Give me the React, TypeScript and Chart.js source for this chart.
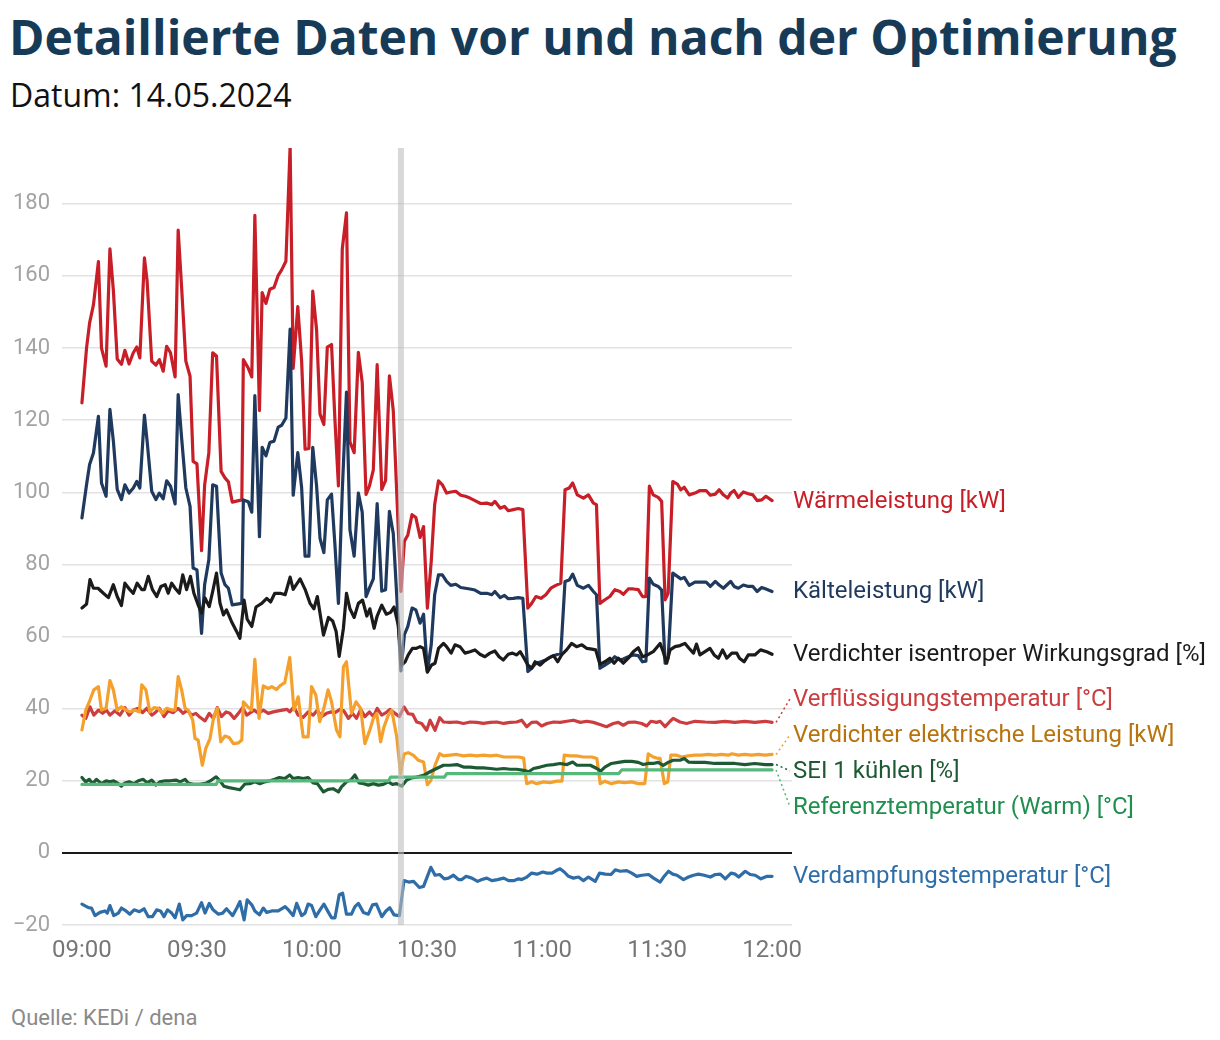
import { useEffect, useRef } from 'react';
import Chart from 'chart.js/auto';

// minutes after 09:00
const powerTimes = [0,1.2,2,3,4.3,5.1,6.3,7.3,8.2,9.2,10.3,11.2,12.3,13.4,14.3,15.1,16.3,17,18.2,19.3,20.2,21.2,22.1,23.1,24.3,25.1,26,27.1,28.2,29,30,31.2,32,33.1,34.1,35.1,36.3,37.3,38.2,39.2,41.7,42.1,43.4,44.3,45.1,46.3,47,48,49,50.1,51.2,52.1,53.2,54.3,55.1,56.3,57.3,58.2,59.2,60.2,61.2,62.1,63.1,64,65.1,66,66.9,67.9,69,69.9,71,72.1,73.1,74.1,75,76,77,78.2,79.2,80.2,81.2,83.2,84.1,85,86.1,87.1,88.2,89.1,90.1,91.1,92,93,94,95.1,96.2,97.5,98.8,100,101.2,102.5,104,105.6,106.9,107.7,109.1,110.2,111.2,112.5,113.8,115,116.3,117.3,118.4,119.7,121,122.3,123.6,124.9,126,127.1,128,129.2,130.8,132.1,133.4,134.2,135.1,136.4,137.7,139,140.3,141.2,142.5,143.8,145.1,146.2,147.1,148,149,150.3,151.2,152.1,152.9,154.1,155.3,156.2,157.1,158.4,159.9,161.2,162.8,163.9,165.2,166.2,167.3,168.4,169.2,170.1,171.2,172.5,173.8,175,176.1,177.3,178.4,180];
const waerme = [124.8,140,147,152,164,140,135,167.5,156,137,135.5,139.4,135.6,138.7,140.3,137.3,165,158.6,136.4,135.3,136.8,133.6,140.5,138.7,132,172.7,156.8,136.4,132.2,108.6,107.9,83.8,102,111,138.7,137.8,105.8,104,102.9,97.3,97.9,136.8,134.4,132,176.8,122.7,155.4,152.4,156.3,156.8,160.2,161.7,164.1,195.8,134.4,151.5,136.4,112,112.2,155.8,145.1,121.7,118.8,140.3,141,119.8,101.8,167.5,177.5,114,111,138.8,130.5,99.4,101.8,106.2,135.4,100.8,103.3,132.3,122.7,72.5,86.4,88.2,93.8,93,87.5,90.5,67.9,80.8,96.6,103.2,102.1,99.8,100.1,100.3,99.2,98.9,98.4,97.7,96.9,97,96.6,97.5,95.6,96.1,94.9,95.2,95.5,95.2,67.9,69.2,71.1,70.6,71.6,73.4,74.2,74.8,100.7,101.2,102.6,99.3,98.4,99.3,97,96.6,69.2,70.2,71.1,73,72.5,71.7,73.2,73.2,73,71.1,71.1,101.7,99.3,98.6,97.5,70.2,72,103,102.3,100.7,101.4,99.3,99.8,100.5,100.5,99.2,99.5,100.7,99.3,98.4,99.8,100.5,98.6,100.1,99.6,99.3,97.7,97.9,98.9,97.7];
const kaelte = [92.9,102.1,107.7,110.9,121.1,102.6,98.9,123,114.2,100.8,98,102.1,99.8,101.2,103,101.2,121.4,114.2,100.3,98,99.8,98.2,103.2,101.7,96.8,127.1,115.1,101.2,96.1,79,78.5,60.9,74.4,81.3,102.1,101.7,77.6,74.4,73.4,68.8,69.2,97.9,97.4,94.5,126.8,87.7,112.5,110.1,113.8,114.2,118.1,118.6,120.6,145.3,99.2,111,101.3,82.3,82.3,112.5,101.8,87.2,83.3,97.9,99.5,85.2,69.2,100.3,127.8,89.6,82.3,99.8,94.5,71.1,73.5,76,96.9,72.6,73,94.7,88.6,50.5,60.5,62.8,67.9,67.4,63.7,66.2,50.3,57.7,71.6,77.1,77.1,75.3,74.2,74.5,73.6,73.4,73.2,72.9,72,72,71.6,72.5,70.8,71.4,70.5,70.6,70.8,70.6,50.3,51.2,52.6,53,53.5,54.4,54.9,55.4,75.3,75.7,77.3,74.2,73.4,74.2,72.5,71.6,51.2,52.1,53,54.4,53.5,53.8,54.4,54.9,54.7,53,53.2,76.2,74.5,73.9,72.9,52.6,54,77.6,76.7,76,76.4,74.2,75.1,75.1,75.1,73.9,75.3,74.3,73.4,74.5,75.3,73.9,73.4,74.3,73.9,73.9,72.5,73.6,73.2,72.5];

const effTimes = [0,1.2,2.1,3,4.2,5.6,6.9,8.2,9.2,10.3,11.2,12.5,13.4,14.4,15.6,16.3,17.3,18.4,19.5,20.6,21.7,22.5,23.4,24.3,25.4,26.3,27.3,28.3,29.2,30.3,31.2,32.1,33.2,34.1,35.1,36,36.9,37.7,39,40.3,41.2,42.3,43.1,44.3,45.4,46.9,48.2,49.2,50.3,51.7,53,54.3,55.1,56.9,58.2,59.5,60.5,61.4,63,64.3,65.4,66.3,67.1,68.2,69,69.9,71,72.1,73.2,74.3,75.1,76.2,77,78.2,79.4,80.5,81.4,82.5,83.4,84.3,85.1,86.2,87.1,88.2,89.1,90.1,91.2,92.1,93,94.3,95.1,96.3,97.3,98.6,99.9,101.2,102.5,103.8,105.1,106.4,107.7,108.8,109.9,111.2,112.3,113.4,114.3,115.1,116.3,117.3,118.2,119.5,120.6,121.7,123,124.1,125.1,126.4,127.7,129,130.4,131.7,133,134,135.1,136.4,137.7,138.8,139.9,141.2,142.5,143.8,145.1,146.2,147.5,149,150.8,151.6,152.5,153.4,154.7,156,157.3,158.4,159.5,160.3,161.2,162.5,163.8,164.9,166,167.1,168.2,169.5,170.8,171.5,172.7,173.8,175.5,177,178.6,180];
const wirkungsgrad = [67.9,69,75.8,73.4,73.4,72,70.8,74.4,71.1,68.6,74.8,73,72,74.8,73,73,76.7,73,71.1,73.9,74.4,72,74.8,73.4,72,77.1,73,76.7,72,68.8,66.5,70.7,68.3,72.5,77.6,69.3,66,67.4,64.2,61.5,59.5,70.1,64.8,62.8,68.2,69.2,70.6,69.6,72,72,71.6,76.5,73.1,76,73.1,69.2,67.7,71.1,60.4,65.3,64.3,61.4,54.5,62.3,72,67.7,65.3,69.2,70.1,65.7,67.7,62.3,65.7,68.7,66.2,66.7,68.2,63.2,52.1,53,54.9,56.7,56.7,57.2,56.7,50.1,52.1,52.6,56.7,58.1,57.2,55.4,57.7,57.2,55.4,55.8,56.3,55.1,54.4,55.4,56,54.4,53.5,55.1,55.4,54.9,55.8,54.4,52.1,51.2,53,52.1,53.2,54,54.7,53,54.9,56.3,58.1,57.2,57.7,56.7,56.5,56.3,52.3,53,54,52.6,54,52.6,54,55.8,56.9,54.4,54.9,55.8,58.1,55.8,52.6,56.3,57.2,57.5,58.1,56.7,55.4,57.9,54.9,55.8,56.7,54.9,54,56.3,54,55.4,55.4,54,53,54.9,54.9,56.3,55.8,55.1];

const condTimes = [0,1,2.1,3.1,4.3,5.4,6.4,7.3,8.6,9.9,11.2,12.3,13.4,14.7,15.8,16.9,18.2,19.3,20.2,21.4,22.5,23.8,25.1,26.4,27.5,28.6,29.7,30.8,32.1,33.2,34.3,35.3,36.4,37.6,38.6,39.7,40.8,41.9,43,44.9,46,47.3,48.6,49.9,51.2,52.3,53.5,54.2,55.3,56.4,57.7,59,60.3,61.4,62.5,63.8,64.9,66,67.3,68.3,69.5,70.6,71.6,72.7,73.8,75,76,77,78.2,79.3,80.3,81.4,82.8,84,85.1,86.3,87.3,88.6,89.9,90.8,92.1,93.3,94.3,96,97.8,99.5,101.3,103,104.7,106.5,108.2,110,111.7,113.4,114.7,116,117.3,118.6,119.9,121.3,123,124.7,126.5,128.2,130,131.7,133.4,135.1,136.8,138.6,139.9,141.2,142.5,144.2,146,147.3,148.4,149.9,150.8,152.1,153.4,154.2,156,157.7,159.9,162.5,165.1,167.7,170.3,172.9,175.5,178.2,180];
const verfluessigung = [38.2,37.3,40.5,38.2,39.6,38.7,39.6,38.2,39.4,38.2,40.3,38.2,39.6,40.1,38.9,40.1,38.2,39.1,40.1,37.8,39.4,38.9,40.1,38.7,39.6,38.2,38.7,37.6,36.6,38.7,37.3,40.3,37.8,39.1,38.7,37.3,38.7,40.3,38.2,39.6,38.7,39.6,38.7,39.1,39.4,39.6,39.8,39.1,40.5,38.2,37.6,39.1,38.2,39.6,37.8,38.7,39.1,38.9,39.8,39.4,37.3,38.7,37.3,39.8,37.8,39.1,37.8,40.1,38.2,38.9,39.8,38.9,37.8,40.5,38.6,38.4,36.3,35.9,34,36.8,34,37.5,36.3,36.2,36.3,35.9,36.3,36.2,35.9,36.2,36.3,35.9,36.2,36.3,36.8,35,36.2,36.3,35.2,35.9,36.3,36.2,36.5,36.8,36.2,36.5,36.2,35.6,35,35.9,36.2,35.4,36.2,36.3,35.9,35.2,36.5,36.2,36.5,35,36.5,37.3,36.3,35.9,36.5,36.3,36.2,36.5,36.2,36.5,36.2,36.5,36.2];

const elTimes = [0,1,2.1,3.1,4.3,5.1,6.3,7.3,8.2,9.2,10.3,11.5,12.5,13.8,15,15.6,16.7,17.7,18.8,19.9,21,22.1,23.4,24.3,25.1,26,26.9,27.7,28.9,29.5,30.3,31.4,32.3,33.4,34.4,35.3,36.2,37.3,38.4,39.5,40.8,41.7,42.1,43.1,44.2,45.1,46.2,47.3,48.6,49.5,50.8,51.6,52.9,54.2,55.3,56.4,57.7,59,59.9,61,62,63.1,64.2,65.1,66.4,67.3,68.2,69,70.3,71.5,72.7,73.8,75.1,76,76.9,77.9,78.8,79.9,80.8,82.1,83.1,84,85.1,86.4,87.7,89.1,90.1,91,92.1,93.3,94.3,96,97.8,99.5,101.3,103,104.7,106.5,108.2,110,111.7,113.9,115.2,116,117.3,118.6,120.4,122.1,123.9,125.2,125.8,127.3,129,130.8,133,134.3,135.2,136.4,138.1,139.9,141.6,143.4,145.1,146.8,147.7,149,149.9,150.8,151.9,152.8,153.6,155.1,156.4,158.1,159.9,161.6,163.4,165.1,166.8,168.6,169.5,171.2,172.9,174.7,176.4,178.2,180];
const elLeistung = [34.1,39.6,42.4,45.2,46.1,39.6,40.1,47.8,45.2,39.6,40.5,39.6,39.1,39.6,39.1,46.6,45.2,39.1,40.3,40.1,38.7,40.1,39.6,39.6,48.9,45.2,40.1,39.6,36.8,31.7,31.3,24.3,29,31.7,37.8,40.1,30.8,32.4,32,30.3,30.5,31.3,41.9,40.7,39.6,53.7,37.3,46.3,45.6,46.1,45.3,46.3,47.2,54.2,39.6,43.3,32.2,32.2,46.1,43.8,36.4,40.1,45.2,41.9,34.1,32.2,51.6,53,38.7,41.9,40.1,30.3,34.1,37.3,38.7,30.8,35,38.2,39.6,32.2,22,27.4,27.8,27.1,25.7,25.2,18.9,20.1,24.3,27.5,26.9,27.1,27.3,26.9,27.1,26.9,27.1,26.9,27.1,26.6,26.6,26.6,26.3,19.2,19.7,19.2,19.7,19.5,19.9,19.9,27.1,26.9,26.9,26.6,26.6,26.2,19.2,19.9,19.2,19.7,19.5,19.7,19.2,19.2,27.5,26.6,26.3,26.2,19.2,19.7,27.1,27.1,26.6,26.9,27.1,27.1,27.3,27.1,27.3,27.1,27.5,27.1,27.3,27.1,27.3,27.1,27.3];

const seiTimes = [0,1,1.9,2.8,3.8,5.1,6.3,7.3,8.3,9.5,10.3,11.2,12.3,13.6,14.7,16,17,18.2,19.3,20.3,21.7,23,24.5,25.6,26.9,27.7,29,30.8,32.5,33.8,35,36,37,38.4,39.9,41.2,42.5,43.8,45.1,46.4,47.7,49,50.3,51.5,52.9,54.2,55.1,56.4,57.7,59,60.3,61.4,63,64.2,65.5,66.9,67.7,69,70.3,71.2,72.3,73.5,74.7,76,77.3,78.6,79.9,81,82.1,83.4,84.7,86,87.3,89.1,90.8,92.5,94.3,96,97.8,99.5,101.3,103,104.7,106.5,108.2,110,111.7,113.4,115.2,116.5,117.8,119.5,121.3,123,124.7,126.5,128,129.1,130.8,132.6,134.3,135.3,136.4,138.1,139.9,141.6,143.4,145.1,146.4,147.7,149,150.3,151.6,152.9,154.2,156,157.1,158.2,159.9,162.5,165.1,167.7,170.3,172.9,175.5,178.2,180];
const seiKuehlen = [20.9,19.7,20.4,19.2,20.4,19.2,20,19.7,20,19.2,18.5,19.4,19.7,19.2,20,20.4,19.4,20.2,18.8,19.7,20,20,20.2,19.7,20.4,19.4,19,19,19.4,20.2,21.1,20,18.5,18.1,17.8,17.5,19.1,19.2,19.7,19.2,19.7,20,20.4,20.9,20.6,21.6,20.6,20.9,20.6,20.9,19.4,19.2,16.9,17.6,17.8,16.9,18.3,19.7,20.4,21.6,19.4,19.2,18.8,19.2,18.8,19,19.7,19,19.2,18.5,20.2,20.8,21,21.5,22.5,23.4,24.3,24.3,24.5,23.8,23.8,23.6,23.6,23.4,23.2,23.4,23.2,23.2,22.9,22.5,23.4,23.8,24.3,24.5,24.8,24.5,25.2,24.3,24.3,24.3,23.4,22.7,23.8,24.8,25.1,25.4,25.4,25.1,24.5,24.8,24.8,25.1,24.3,25.1,25.7,25.7,26.2,25.2,25.1,25.1,24.8,24.8,24.8,24.5,24.8,24.5,24.5];

const refTimes = [0,35,35.5,80,80.5,94.5,95.2,140,140.8,180];
const referenz = [19,19,20,20,21,21,22,22,23,23];

const evapTimes = [0,1.7,2.5,3.4,4.7,6,6.6,7.3,8.3,9.5,10.3,11.5,12.5,13.6,15,16.2,17.3,18.4,19.5,20.5,21.4,22.3,23.4,24.3,25.4,26.3,27.3,28.6,29.9,31.2,32.1,33.2,34.2,35.6,36.7,37.7,39.3,40.4,41.2,42.3,43.1,44.3,45.1,46.3,47.3,48.2,49.5,51.2,53,54.1,55.1,56,57.3,58.2,59,59.9,61,62.1,63.1,64.3,65.1,66,67.1,68,69,70.3,71.2,72.1,73.4,74.7,75.8,76.8,78.2,79.3,80.3,81.4,82.8,84,85.2,86.5,88,89.1,90.1,91,92.1,93.3,94.5,95.6,96.9,98.2,99.1,100.2,101.7,103.2,104.3,105.6,106.9,108.4,110,111.3,112.6,113.9,114.7,115.9,117.3,118.7,120.2,121.3,122.6,123.7,124.7,125.8,126.9,128.2,129.5,130.8,132.1,133.9,135,136.5,138,139.1,140.4,142.1,143.4,144.7,146,147.8,149.1,150.8,151.7,153,154.1,155.2,156.9,158.2,159.5,160.8,162.3,163.9,165.2,166.5,167.8,169.3,170.4,171.3,173,174.3,175.6,177.1,178.7,180];
const verdampfung = [-14.2,-15.2,-15.3,-17.4,-16.5,-16.1,-16.7,-14.6,-17.4,-16.7,-15.3,-16.1,-17,-15.8,-16.3,-15.5,-17.7,-17.7,-15.8,-16.1,-17.7,-15.8,-16.7,-18,-14.2,-18.6,-17.4,-17.4,-16.7,-13.8,-16.7,-14,-15.8,-17,-16.7,-15.5,-17.4,-15.3,-13.5,-18.6,-13,-14.4,-16.1,-17.2,-15.3,-16.5,-16.1,-16.1,-14.9,-16.1,-17.4,-14,-17.4,-16.7,-14.2,-14.6,-17.7,-15.8,-14.2,-16.5,-18,-18,-11.6,-11.2,-17,-17,-14.9,-14,-16.5,-17,-14.4,-14.2,-17.7,-16.1,-15.2,-17.2,-17.4,-7.7,-8.1,-7.9,-9.6,-9.3,-6.5,-4,-6.2,-6,-7.2,-7,-6.2,-7.4,-7.4,-6.5,-7,-7.9,-7.4,-7,-7.7,-7.4,-7,-7.7,-7.7,-7.2,-7.4,-6.8,-5.6,-5.9,-5.3,-5.6,-5.6,-4.9,-4.4,-5.3,-6.5,-7,-6.7,-7.7,-6.7,-7.9,-5.6,-5.9,-6,-4.7,-5.1,-4.9,-5.6,-6.5,-6.2,-6,-7,-8.1,-6.7,-5.1,-5.9,-6.2,-7.4,-6.7,-6.2,-5.9,-6.2,-6.7,-6,-5.9,-7.2,-5.6,-5.9,-6.7,-5.1,-6,-6.2,-7.2,-6.5,-6.5];

const xTicks = [0, 30, 60, 90, 120, 150, 180];
const yTicks = [-20, 0, 20, 40, 60, 80, 100, 120, 140, 160, 180];
const optimizationAt = 83.2; // ca. 10:23

const series = [
  { label: 'Referenztemperatur (Warm) [°C]', t: refTimes, v: referenz, line: '#56b87a', text: '#1f8f4e' },
  { label: 'Verdampfungstemperatur [°C]', t: evapTimes, v: verdampfung, line: '#2e6da8', text: '#2e6da8' },
  { label: 'SEI 1 kühlen [%]', t: seiTimes, v: seiKuehlen, line: '#1d5a33', text: '#1d5a33' },
  { label: 'Verdichter elektrische Leistung [kW]', t: elTimes, v: elLeistung, line: '#f5a02c', text: '#b8740c' },
  { label: 'Verflüssigungstemperatur [°C]', t: condTimes, v: verfluessigung, line: '#cc3d3f', text: '#cc3d3f' },
  { label: 'Verdichter isentroper Wirkungsgrad [%]', t: effTimes, v: wirkungsgrad, line: '#1b1b1b', text: '#1b1b1b' },
  { label: 'Kälteleistung [kW]', t: powerTimes, v: kaelte, line: '#1f3a5e', text: '#1f3a5e' },
  { label: 'Wärmeleistung [kW]', t: powerTimes, v: waerme, line: '#c81e27', text: '#c81e27' },
];

const pad = (n: number) => String(n).padStart(2, '0');
const clock = (m: number) => `${pad(9 + Math.floor(m / 60))}:${pad(m % 60)}`;

const markerPlugin = {
  id: 'optMarker',
  afterDatasetsDraw(chart: any) {
    const { ctx, chartArea, scales } = chart;
    const x = scales.x.getPixelForValue(optimizationAt);
    ctx.save();
    ctx.fillStyle = 'rgba(190,190,190,0.6)';
    ctx.fillRect(x - 3, chartArea.top, 6, chartArea.bottom - chartArea.top);
    ctx.restore();
  },
};

const endLabelPlugin = {
  id: 'endLabels',
  afterDraw(chart: any) {
    const { ctx, chartArea } = chart;
    const gap = 36;
    const items = chart.data.datasets.map((ds: any, i: number) => {
      const meta = chart.getDatasetMeta(i);
      const pt = meta.data[meta.data.length - 1];
      return { ds, x: pt.x, y0: pt.y, y: pt.y };
    });
    items.sort((a: any, b: any) => a.y0 - b.y0);
    // merge overlapping labels into centred groups
    let groups: any[] = items.map((it: any) => ({ items: [it], mean: it.y0 }));
    let changed = true;
    while (changed) {
      changed = false;
      for (let i = 1; i < groups.length; i++) {
        const a = groups[i - 1];
        const b = groups[i];
        const aBottom = a.mean + ((a.items.length - 1) * gap) / 2;
        const bTop = b.mean - ((b.items.length - 1) * gap) / 2;
        if (bTop - aBottom < gap) {
          const all = a.items.concat(b.items);
          const mean = all.reduce((s: number, it: any) => s + it.y0, 0) / all.length;
          groups.splice(i - 1, 2, { items: all, mean });
          changed = true;
          break;
        }
      }
    }
    groups.forEach((g) => {
      g.items.forEach((it: any, k: number) => {
        it.y = g.mean + (k - (g.items.length - 1) / 2) * gap;
      });
    });

    const lx = chartArea.right + 1;
    ctx.save();
    ctx.font = '24px Roboto';
    ctx.textBaseline = 'middle';
    ctx.textAlign = 'left';
    items.forEach((it: any) => {
      if (Math.abs(it.y - it.y0) > 2) {
        ctx.beginPath();
        ctx.setLineDash([2, 3]);
        ctx.lineWidth = 1.5;
        ctx.strokeStyle = it.ds.borderColor;
        ctx.moveTo(it.x + 4, it.y0);
        ctx.lineTo(lx - 3, it.y);
        ctx.stroke();
        ctx.setLineDash([]);
      }
      ctx.fillStyle = it.ds.labelColor;
      ctx.fillText(it.ds.label, lx, it.y + 1);
    });
    ctx.restore();
  },
};

export default function App() {
  const canvasRef = useRef<HTMLCanvasElement>(null);
  const chartRef = useRef<Chart | null>(null);

  useEffect(() => {
    document.body.style.margin = '0';
    document.body.style.background = '#ffffff';
    if (!canvasRef.current) return;
    const ctx = canvasRef.current.getContext('2d');
    if (!ctx) return;
    if (chartRef.current) chartRef.current.destroy();

    chartRef.current = new Chart(ctx, {
      type: 'line',
      data: {
        datasets: series.map((s) => ({
          label: s.label,
          data: s.t.map((t, i) => ({ x: t, y: s.v[i] })),
          borderColor: s.line,
          labelColor: s.text,
          borderWidth: 3.2,
          pointRadius: 0,
          tension: 0,
          borderJoinStyle: 'round',
          borderCapStyle: 'round',
          fill: false,
        })) as any,
      },
      options: {
        animation: false,
        responsive: false,
        events: [],
        layout: { padding: { left: 0, right: 428, top: 18, bottom: 0 } },
        plugins: {
          legend: { display: false },
          tooltip: { enabled: false },
        },
        scales: {
          x: {
            type: 'linear',
            min: -5.2,
            max: 185.2,
            afterBuildTicks: (scale: any) => {
              scale.ticks = xTicks.map((v) => ({ value: v }));
            },
            afterFit: (scale: any) => {
              scale.height = 55;
              scale.paddingLeft = 0;
              scale.paddingRight = 0;
            },
            grid: { display: false },
            border: { display: false },
            ticks: {
              padding: 4,
              maxRotation: 0,
              color: '#767676',
              font: { family: 'Roboto', size: 24 },
              callback: (v: any) => clock(Number(v)),
            },
          },
          y: {
            min: -20,
            max: 195.5,
            afterBuildTicks: (scale: any) => {
              scale.ticks = yTicks.map((v) => ({ value: v }));
            },
            afterFit: (scale: any) => {
              scale.width = 62;
              scale.paddingTop = 0;
              scale.paddingBottom = 0;
            },
            border: { display: false },
            grid: {
              drawTicks: false,
              color: (c: any) => (c.tick && c.tick.value === 0 ? '#1a1a1a' : '#e2e2e2'),
              lineWidth: (c: any) => (c.tick && c.tick.value === 0 ? 2 : 1.5),
            },
            ticks: {
              padding: 12,
              color: '#a3a3a3',
              font: { family: 'Roboto', size: 22 },
              callback: (v: any) => (Number(v) < 0 ? '\u2212' + Math.abs(Number(v)) : String(v)),
            },
          },
        },
      },
      plugins: [markerPlugin, endLabelPlugin],
    } as any);

    return () => {
      if (chartRef.current) {
        chartRef.current.destroy();
        chartRef.current = null;
      }
    };
  }, []);

  return (
    <div style={{ position: 'relative', width: 1220, height: 1040, background: '#fff', overflow: 'hidden' }}>
      <div
        style={{
          position: 'absolute',
          left: 9,
          top: 7,
          font: 'bold 48px "Open Sans"',
          lineHeight: '60px',
          color: '#173b57',
          whiteSpace: 'nowrap',
        }}
      >
        Detaillierte Daten vor und nach der Optimierung
      </div>
      <div
        style={{
          position: 'absolute',
          left: 10,
          top: 77,
          font: '32px "Open Sans"',
          lineHeight: '36px',
          color: '#111',
          whiteSpace: 'nowrap',
        }}
      >
        Datum: 14.05.2024
      </div>
      <canvas
        ref={canvasRef}
        width={1220}
        height={850}
        style={{ position: 'absolute', left: 0, top: 130, width: 1220, height: 850 }}
      ></canvas>
      <div
        style={{
          position: 'absolute',
          left: 11,
          top: 1005,
          font: '22px Roboto',
          lineHeight: '26px',
          color: '#8a8a8a',
        }}
      >
        Quelle: KEDi / dena
      </div>
    </div>
  );
}
